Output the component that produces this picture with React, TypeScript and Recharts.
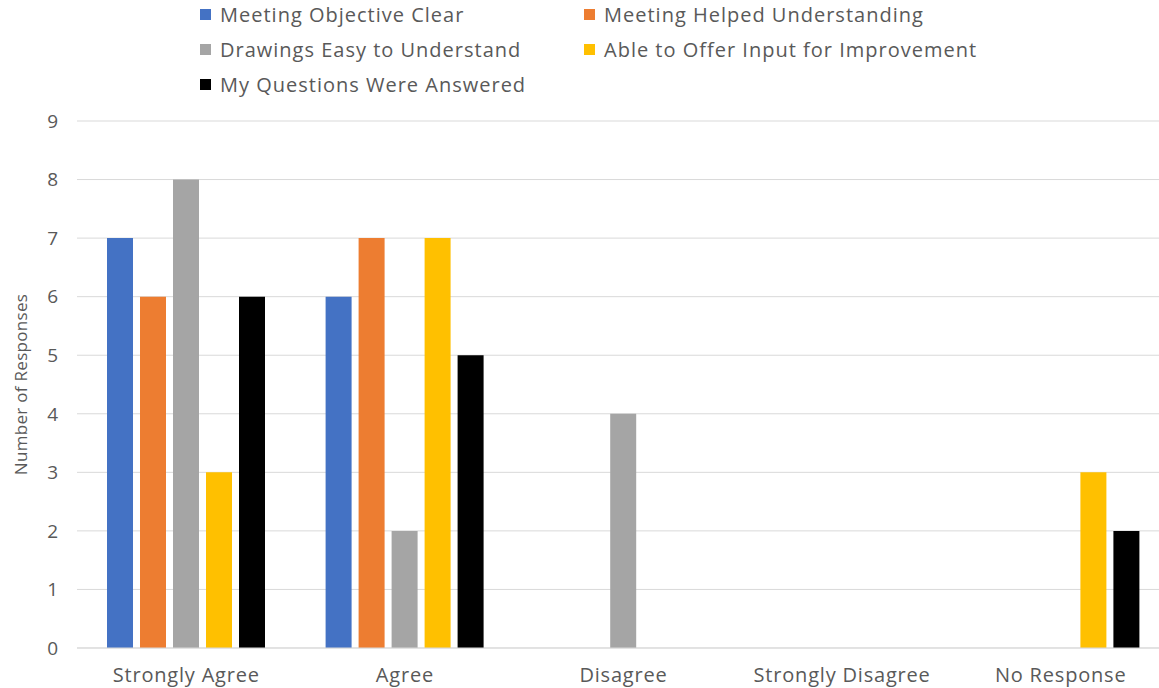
import { Bar, BarChart, CartesianGrid, XAxis, YAxis } from "recharts";

const categories = ["Strongly Agree", "Agree", "Disagree", "Strongly Disagree", "No Response"];
const objectiveClear = [7, 6, 0, 0, 0];
const helpedUnderstanding = [6, 7, 0, 0, 0];
const drawingsEasy = [8, 2, 4, 0, 0];
const offerInput = [3, 7, 0, 0, 3];
const questionsAnswered = [6, 5, 0, 0, 2];
const yTicks = [0, 1, 2, 3, 4, 5, 6, 7, 8, 9];

const series = [
  { key: "objective", name: "Meeting Objective Clear", color: "#4472C4" },
  { key: "helped", name: "Meeting Helped Understanding", color: "#ED7D31" },
  { key: "drawings", name: "Drawings Easy to Understand", color: "#A5A5A5" },
  { key: "input", name: "Able to Offer Input for Improvement", color: "#FFC000" },
  { key: "answered", name: "My Questions Were Answered", color: "#000000" },
];

const data = categories.map((c, i) => ({
  category: c,
  objective: objectiveClear[i],
  helped: helpedUnderstanding[i],
  drawings: drawingsEasy[i],
  input: offerInput[i],
  answered: questionsAnswered[i],
}));

const font = "'Open Sans', sans-serif";
const textColor = "#595959";

// legend is drawn on top of the chart so it doesn't eat into the plot area
const ChartLegend = () => (
  <div style={{ position: "absolute", left: 0, top: 0, width: 1159, height: 110, fontFamily: font }}>
    {series.map((s, i) => (
      <div
        key={s.key}
        style={{
          position: "absolute",
          left: i % 2 === 0 ? 200 : 584,
          top: 15 + Math.floor(i / 2) * 35 - 14,
          height: 26,
          display: "flex",
          alignItems: "center",
          fontSize: 20,
          letterSpacing: 1,
          color: textColor,
          whiteSpace: "nowrap",
        }}
      >
        <span style={{ width: 11, height: 11, background: s.color, marginRight: 9, display: "inline-block" }} />
        {s.name}
      </div>
    ))}
  </div>
);

// the plot area in the original runs slightly past the right edge, so the chart is wider and clipped
const App = () => {
  return (
    <div
      style={{
        position: "absolute",
        left: 0,
        top: 0,
        width: 1159,
        height: 688,
        overflow: "hidden",
        background: "#fff",
      }}
    >
      <BarChart
        width={1170}
        height={688}
        data={data}
        margin={{ top: 121, right: 0, left: 0, bottom: 0 }}
        barSize={26}
        barGap={7}
      >
        <CartesianGrid vertical={false} stroke="#D9D9D9" />
        <XAxis
          dataKey="category"
          height={40}
          tickLine={false}
          axisLine={{ stroke: "#D9D9D9" }}
          tickMargin={14}
          tick={{ fontSize: 20, fill: textColor, fontFamily: font, letterSpacing: 0.8 }}
        />
        <YAxis
          width={77}
          domain={[0, 9]}
          ticks={yTicks}
          tickLine={false}
          axisLine={false}
          tickMargin={13}
          tick={{ fontSize: 19, fill: textColor, fontFamily: font }}
          label={{
            value: "Number of Responses",
            angle: -90,
            position: "center",
            dx: -18,
            style: { fontSize: 17, fill: textColor, fontFamily: font, textAnchor: "middle", letterSpacing: 0.3 },
          }}
        />
        {series.map((s) => (
          <Bar key={s.key} dataKey={s.key} name={s.name} fill={s.color} isAnimationActive={false} />
        ))}
      </BarChart>
      <ChartLegend />
    </div>
  );
};

export default App;
